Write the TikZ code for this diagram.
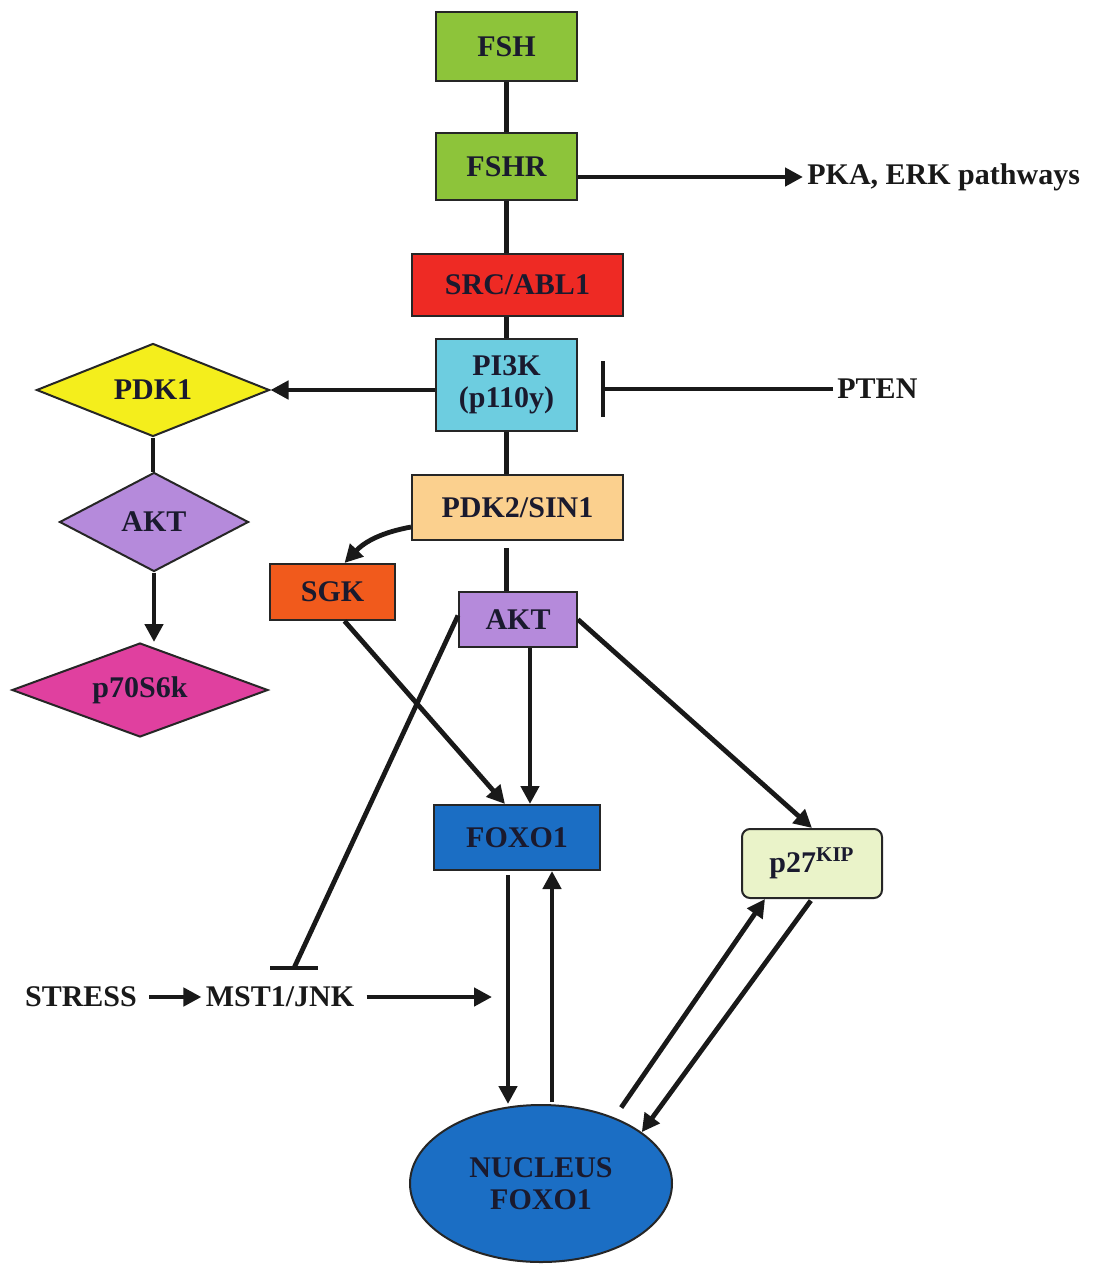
\documentclass[tikz,border=0pt]{standalone}
\usepackage{fontspec}
\setmainfont{Liberation Serif}
\usetikzlibrary{arrows.meta,shapes.geometric}
\definecolor{txt}{HTML}{1A1A2E}
\definecolor{cfsh}{HTML}{8DC43A}
\definecolor{csrc}{HTML}{EE2A24}
\definecolor{cpi}{HTML}{6DCDE0}
\definecolor{cpdk}{HTML}{FBD08E}
\definecolor{cakt}{HTML}{B58ADB}
\definecolor{csgk}{HTML}{F15A1C}
\definecolor{cfox}{HTML}{1B6EC4}
\definecolor{cp27}{HTML}{EAF3C9}
\definecolor{cpdkone}{HTML}{F4EE1C}
\definecolor{cpsev}{HTML}{E0409F}
\begin{document}
\begin{tikzpicture}[x=0.5pt,y=-0.5pt,
  box/.style={draw=black!85, line width=1pt, inner sep=0pt, align=center,
    font=\bfseries\fontsize{15}{16}\selectfont, text=txt},
  dia/.style={box, diamond, aspect=2.5},
  conn/.style={line width=2.4pt, draw=black!90},
  arr/.style={conn, -{Triangle[length=9pt,width=9pt]}},
  inh/.style={line width=1.6pt, draw=black!90, -{Bar[width=28pt,line width=2pt]}},
  lbl/.style={font=\bfseries\fontsize{15}{17}\selectfont, text=black!90, inner sep=2pt}]
\useasboundingbox (0,0) rectangle (1106,1264);

% boxes
\node[box, fill=cfsh, minimum width=70.5pt, minimum height=34.5pt] (fsh) at (506.5,46.5) {FSH};
\node[box, fill=cfsh, minimum width=70.5pt, minimum height=33.5pt] (fshr) at (506.5,166.5) {FSHR};
\node[box, fill=csrc, minimum width=105.5pt, minimum height=31pt] (src) at (517.5,285) {SRC/ABL1};
\node[box, fill=cpi, minimum width=70.5pt, minimum height=46pt] (pi3k) at (506.5,385) {PI3K\\(p110y)};
\node[box, fill=cpdk, minimum width=105.5pt, minimum height=32.5pt] (pdk2) at (517.5,507.5) {PDK2/SIN1};
\node[box, fill=cakt, minimum width=59pt, minimum height=27.5pt] (akt) at (518,619.5) {AKT};
\node[box, fill=csgk, minimum width=62.5pt, minimum height=28pt] (sgk) at (332.5,592) {SGK};
\node[box, fill=cfox, minimum width=83pt, minimum height=32.5pt] (foxo1) at (517,837.5) {FOXO1};
\node[box, fill=cp27, rounded corners=4pt, minimum width=70pt, minimum height=34.5pt] (p27) at (812,863.5) {p27\textsuperscript{KIP}};
\node[box, ellipse, fill=cfox, minimum width=131pt, minimum height=78.5pt] (nucleus) at (541,1183.5) {NUCLEUS\\FOXO1};

% diamonds
\node[dia, fill=cpdkone, minimum width=116.5pt, minimum height=46.5pt] (pdk1) at (153,390) {PDK1};
\node[dia, fill=cakt, minimum width=94.5pt, minimum height=49.5pt] (akt2) at (154,522) {AKT};
\node[dia, fill=cpsev, minimum width=128pt, minimum height=47pt] (p70) at (140,690) {p70S6k};

% labels
\node[lbl, anchor=west] (pka) at (803,177) {PKA, ERK pathways};
\node[lbl, anchor=west] (pten) at (833,389) {PTEN};
\node[lbl] (stress) at (81,997) {STRESS};
\node[lbl] (mst) at (280,997) {MST1/JNK};
\coordinate (mstbar) at (294,968);
\coordinate (mstend) at (492,997);

% connectors: main vertical chain
\draw[conn] (fsh.south) -- (fsh.south |- fshr.north);
\draw[conn] (fshr.south) -- (fshr.south |- src.north);
\draw[conn] (pi3k.north |- src.south) -- (pi3k.north);
\draw[conn] (pi3k.south) -- (pi3k.south |- pdk2.north);
\draw[conn, shorten <=3.5pt] (pi3k.south |- pdk2.south) -- (pi3k.south |- akt.north);
% side branches
\draw[arr] (fshr.east |- pka.west) -- (pka.west);
\draw[arr] (pi3k.west |- pdk1.east) -- (pdk1.east);
\draw[inh, shorten >=11.5pt] (pten.west) -- (pten.west -| pi3k.east);
\draw[arr] ([yshift=-9.75pt]pdk2.west) to[bend right=18] ([xshift=6pt]sgk.north);
\draw[conn] (pdk1.south) -- (pdk1.south |- akt2.north);
\draw[arr] (akt2.south) -- (akt2.south |- p70.north);
\draw[arr] ([xshift=6pt]akt.south) -- ([xshift=6pt]akt.south |- foxo1.north);
\draw[arr] ([xshift=6pt]sgk.south) -- ([xshift=-6pt]foxo1.north);
\draw[arr] (akt.east) -- (p27.north);
\draw[conn] ([yshift=2pt]akt.west) -- (mstbar);
\draw[conn] ([xshift=-12pt]mstbar) -- ([xshift=12pt]mstbar);
\draw[arr, shorten <=4pt] (stress) -- (mst);
\draw[arr, shorten <=4pt] (mst) -- (mstend);
\draw[arr, shorten <=2pt] ([xshift=-4.5pt]foxo1.south) -- ([xshift=-4.5pt]foxo1.south |- nucleus.north);
\draw[arr, shorten <=1pt] ([xshift=17.5pt]foxo1.south |- nucleus.north) -- ([xshift=17.5pt]foxo1.south);
\draw[arr, shorten <=6pt] (nucleus.42) -- ([xshift=-23.5pt]p27.south);
\draw[arr, shorten <=1pt] (p27.south) -- (nucleus.27);
\end{tikzpicture}
\end{document}
